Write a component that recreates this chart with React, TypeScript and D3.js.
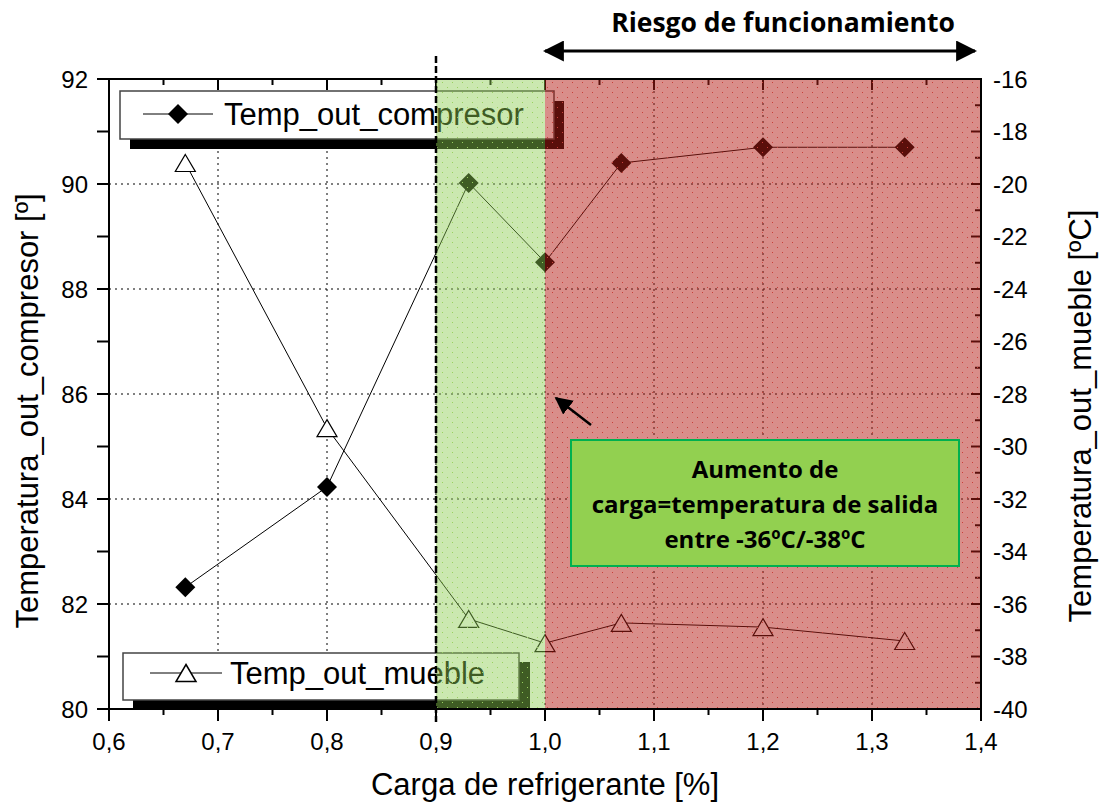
import React from 'react';
import * as d3 from 'd3';

const W = 1099;
const H = 805;
const MARGIN = { top: 79, right: 118, bottom: 96, left: 109 };

// datos
const cargas = [0.67, 0.8, 0.93, 1.0, 1.07, 1.2, 1.33];
const tempCompresor = [82.32, 84.23, 90.02, 88.51, 90.4, 90.7, 90.7];
const tempMueble = [-19.2, -29.3, -36.57, -37.49, -36.72, -36.88, -37.41];

const xTicks = [0.6, 0.7, 0.8, 0.9, 1.0, 1.1, 1.2, 1.3, 1.4];
const xMinor = [0.65, 0.75, 0.85, 0.95, 1.05, 1.15, 1.25, 1.35];
const yLeftTicks = [80, 82, 84, 86, 88, 90, 92];
const yLeftMinor = [81, 83, 85, 87, 89, 91];
const yRightTicks = [-40, -38, -36, -34, -32, -30, -28, -26, -24, -22, -20, -18, -16];
const yRightMinor = [-39, -37, -35, -33, -31, -29, -27, -25, -23, -21, -19, -17];

const zonaVerde = [0.9, 1.0];
const zonaRoja = [1.0, 1.4];
const limiteCarga = 0.9;

const notaLineas = ['Aumento de', 'carga=temperatura de salida', 'entre -36ºC/-38ºC'];

const ARIAL = '"Liberation Sans", Arial, sans-serif';
const CALIBRI = '"Open Sans", Lato, sans-serif';

const fmt = (v: number) => v.toFixed(1).replace('.', ',');

const triPath = 'M0,-8.5L10,8.5L-10,8.5Z';

const App: React.FC = () => {
  const x0 = MARGIN.left;
  const x1 = W - MARGIN.right;
  const y0 = MARGIN.top;
  const y1 = H - MARGIN.bottom;

  const x = d3.scaleLinear().domain([0.6, 1.4]).range([x0, x1]);
  const yL = d3.scaleLinear().domain([80, 92]).range([y1, y0]);
  const yR = d3.scaleLinear().domain([-40, -16]).range([y1, y0]);

  const lineC = d3.line<number>().x((_, i) => x(cargas[i])).y(d => yL(d));
  const lineM = d3.line<number>().x((_, i) => x(cargas[i])).y(d => yR(d));
  const diamond = d3.symbol(d3.symbolSquare, 200)();

  return (
    <div>
      <style>{'body{margin:0}'}</style>
      <svg width={W} height={H} style={{ display: 'block', background: '#fff' }}>
        <defs>
          <pattern id="dotsG" width="10" height="10" patternUnits="userSpaceOnUse">
            <rect x="2" y="2" width="1" height="1" fill="#9ad060" />
            <rect x="7" y="7" width="1" height="1" fill="#9ad060" />
          </pattern>
          <pattern id="dotsR" width="10" height="10" patternUnits="userSpaceOnUse">
            <rect x="2" y="2" width="1" height="1" fill="#c8403a" />
            <rect x="7" y="7" width="1" height="1" fill="#c8403a" />
          </pattern>
          <marker id="head" viewBox="0 0 10 10" refX="9" refY="5" markerWidth="7" markerHeight="7" orient="auto-start-reverse">
            <path d="M0,0L10,5L0,10Z" fill="#000" />
          </marker>
        </defs>

        {/* rejilla */}
        <g stroke="#000" strokeWidth={1} strokeDasharray="2,4">
          {xTicks.slice(1, -1).map(t => (
            <line key={'gx' + t} x1={x(t)} x2={x(t)} y1={y0} y2={y1} />
          ))}
          {yLeftTicks.slice(1, -1).map(t => (
            <line key={'gy' + t} x1={x0} x2={x1} y1={yL(t)} y2={yL(t)} />
          ))}
        </g>

        {/* ticks */}
        <g stroke="#000" strokeWidth={2}>
          {xTicks.map(t => (
            <g key={'tx' + t}>
              <line x1={x(t)} x2={x(t)} y1={y1} y2={y1 + 12} />
              <line x1={x(t)} x2={x(t)} y1={y0} y2={y0 + 11} />
            </g>
          ))}
          {xMinor.map(t => (
            <g key={'mx' + t}>
              <line x1={x(t)} x2={x(t)} y1={y1} y2={y1 + 6} />
              <line x1={x(t)} x2={x(t)} y1={y0} y2={y0 + 6} />
            </g>
          ))}
          {yLeftTicks.concat(yLeftMinor).map(t => (
            <line key={'tl' + t} x1={x0 - 12} x2={x0} y1={yL(t)} y2={yL(t)} />
          ))}
          {yRightTicks.map(t => (
            <line key={'tr' + t} x1={x1 - 10} x2={x1} y1={yR(t)} y2={yR(t)} />
          ))}
          {yRightMinor.map(t => (
            <line key={'mr' + t} x1={x1 - 6} x2={x1} y1={yR(t)} y2={yR(t)} />
          ))}
        </g>

        {/* series */}
        <path d={lineC(tempCompresor) || ''} fill="none" stroke="#000" strokeWidth={1} />
        <path d={lineM(tempMueble) || ''} fill="none" stroke="#000" strokeWidth={1} />
        {tempCompresor.map((v, i) => (
          <path key={'c' + i} d={diamond || ''} transform={`translate(${x(cargas[i])},${yL(v)}) rotate(45)`} fill="#000" />
        ))}
        {tempMueble.map((v, i) => (
          <path key={'m' + i} d={triPath} transform={`translate(${x(cargas[i])},${yR(v)})`} fill="#fff" stroke="#000" strokeWidth={1.2} />
        ))}

        {/* leyendas */}
        <g>
          <rect x={130} y={101} width={434} height={48} fill="#000" />
          <rect x={120} y={91} width={434} height={48} fill="#fff" stroke="#444" strokeWidth={1.5} />
          <line x1={143} x2={213} y1={114} y2={114} stroke="#000" strokeWidth={1} />
          <path d={diamond || ''} transform="translate(178,114) rotate(45)" fill="#000" />
          <text x={224} y={125} fontFamily={ARIAL} fontSize={31}>Temp_out_compresor</text>

          <rect x={133} y={662} width={397} height={48} fill="#000" />
          <rect x={123} y={653} width={396} height={47} fill="#fff" stroke="#444" strokeWidth={1.5} />
          <line x1={150} x2={222} y1={673} y2={673} stroke="#000" strokeWidth={1} />
          <path d={triPath} transform="translate(186,673)" fill="#fff" stroke="#000" strokeWidth={1.5} />
          <text x={230} y={684} fontFamily={ARIAL} fontSize={31}>Temp_out_mueble</text>
        </g>

        {/* zonas sombreadas */}
        <rect x={x(zonaVerde[0])} y={y0} width={x(zonaVerde[1]) - x(zonaVerde[0])} height={y1 - y0} fill="rgb(140,205,80)" fillOpacity={0.45} />
        <rect x={x(zonaVerde[0])} y={y0} width={x(zonaVerde[1]) - x(zonaVerde[0])} height={y1 - y0} fill="url(#dotsG)" />
        <rect x={x(zonaRoja[0])} y={y0} width={x(zonaRoja[1]) - x(zonaRoja[0])} height={y1 - y0} fill="rgb(180,30,22)" fillOpacity={0.5} />
        <rect x={x(zonaRoja[0])} y={y0} width={x(zonaRoja[1]) - x(zonaRoja[0])} height={y1 - y0} fill="url(#dotsR)" />

        {/* marco */}
        <rect x={x0} y={y0} width={x1 - x0} height={y1 - y0} fill="none" stroke="#000" strokeWidth={2} />

        {/* linea limite */}
        <line x1={x(limiteCarga)} x2={x(limiteCarga)} y1={56} y2={722} stroke="#000" strokeWidth={2.5} strokeDasharray="7,3" />

        {/* etiquetas de ejes */}
        <g fontFamily={ARIAL} fontSize={24} fill="#000">
          {xTicks.map(t => (
            <text key={'lx' + t} x={x(t)} y={y1 + 41} textAnchor="middle">{fmt(t)}</text>
          ))}
          {yLeftTicks.map(t => (
            <text key={'ll' + t} x={x0 - 21} y={yL(t) + 8.5} textAnchor="end">{t}</text>
          ))}
          {yRightTicks.map(t => (
            <text key={'lr' + t} x={x1 + 12} y={yR(t) + 8.5} textAnchor="start">{t}</text>
          ))}
        </g>
        <g fontFamily={ARIAL} fontSize={31} fill="#000">
          <text x={(x0 + x1) / 2} y={795} textAnchor="middle">Carga de refrigerante [%]</text>
          <text transform="translate(38,411) rotate(-90)" textAnchor="middle">Temperatura_out_compresor [º]</text>
          <text transform="translate(1091,416) rotate(-90)" textAnchor="middle">Temperatura_out_mueble [ºC]</text>
        </g>

        {/* anotaciones */}
        <line x1={545} x2={975} y1={51} y2={51} stroke="#000" strokeWidth={3} markerStart="url(#head)" markerEnd="url(#head)" />
        <text x={783} y={32} textAnchor="middle" fontFamily={CALIBRI} fontWeight="bold" fontSize={26.5}>Riesgo de funcionamiento</text>

        <line x1={591} x2={556} y1={425} y2={398} stroke="#000" strokeWidth={2.5} markerEnd="url(#head)" />

        <rect x={571} y={440} width={388} height={126} fill="#92d050" stroke="#00b050" strokeWidth={2} />
        {notaLineas.map((s, i) => (
          <text key={s} x={765} y={478 + i * 35} textAnchor="middle" fontFamily={CALIBRI} fontWeight="bold" fontSize={24}>{s}</text>
        ))}
      </svg>
    </div>
  );
};

export default App;
